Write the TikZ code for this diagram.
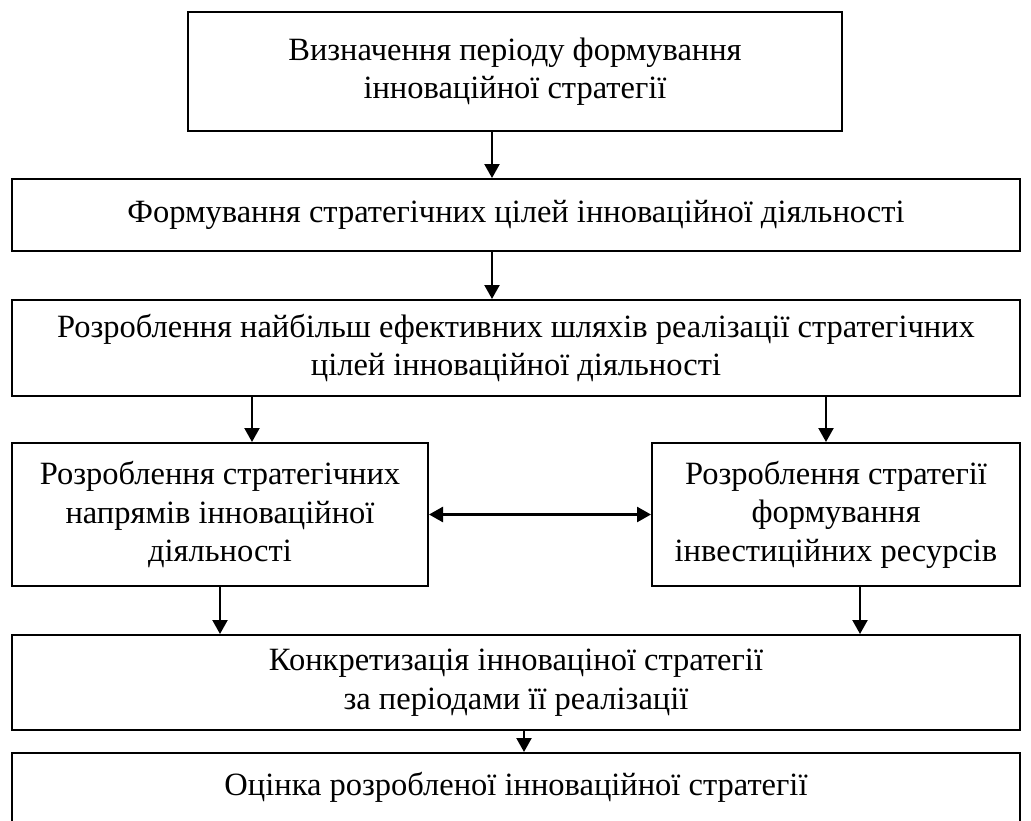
\documentclass[tikz,border=0pt]{standalone}
\usepackage{fontspec}
\setmainfont{Liberation Serif}
\usetikzlibrary{arrows.meta}
\begin{document}
\begin{tikzpicture}[x=1pt,y=-1pt,
  box/.style={draw=black, line width=2pt, align=center, inner sep=0pt,
    font=\fontsize{32.5}{38.5}\selectfont},
  arr/.style={line width=2.2pt, -{Triangle[width=15pt,length=14pt]}},
  darr/.style={line width=2.6pt, {Triangle[width=15pt,length=14pt]}-{Triangle[width=15pt,length=14pt]}}]
\useasboundingbox (0,0) rectangle (1031,820);
\node[box, minimum width=654pt, minimum height=119pt] (b1) at (515,71.5)
  {Визначення періоду формування\\інноваційної стратегії};
\node[box, minimum width=1008pt, minimum height=72pt] (b2) at (516,215)
  {Формування стратегічних цілей інноваційної діяльності};
\node[box, minimum width=1008pt, minimum height=96pt] (b3) at (516,348)
  {Розроблення найбільш ефективних шляхів реалізації стратегічних\\цілей інноваційної діяльності};
\node[box, minimum width=416pt, minimum height=143pt] (b4) at (220,514.5)
  {Розроблення стратегічних\\напрямів інноваційної\\діяльності};
\node[box, minimum width=368pt, minimum height=143pt] (b5) at (836,514.5)
  {Розроблення стратегії\\формування\\інвестиційних ресурсів};
\node[box, minimum width=1008pt, minimum height=95pt] (b6) at (516,682.5)
  {Конкретизація інноваціної стратегії\\за періодами її реалізації};
\node[box, minimum width=1008pt, minimum height=69pt] (b7) at (516,787.5)
  {Оцінка розробленої інноваційної стратегії};
\coordinate (c1) at (492,0);
\coordinate (c2) at (492,0);
\coordinate (c3) at (252,0);
\coordinate (c4) at (826,0);
\coordinate (c5) at (220,0);
\coordinate (c6) at (860,0);
\coordinate (c7) at (524,0);
\draw[arr] (b1.south -| c1) -- (b2.north -| c1);
\draw[arr] (b2.south -| c2) -- (b3.north -| c2);
\draw[arr] (b3.south -| c3) -- (b4.north -| c3);
\draw[arr] (b3.south -| c4) -- (b5.north -| c4);
\draw[darr] (b4.east) -- (b4.east -| b5.west);
\draw[arr] (b4.south -| c5) -- (b6.north -| c5);
\draw[arr] (b5.south -| c6) -- (b6.north -| c6);
\draw[arr] (b6.south -| c7) -- (b7.north -| c7);
\end{tikzpicture}
\end{document}
